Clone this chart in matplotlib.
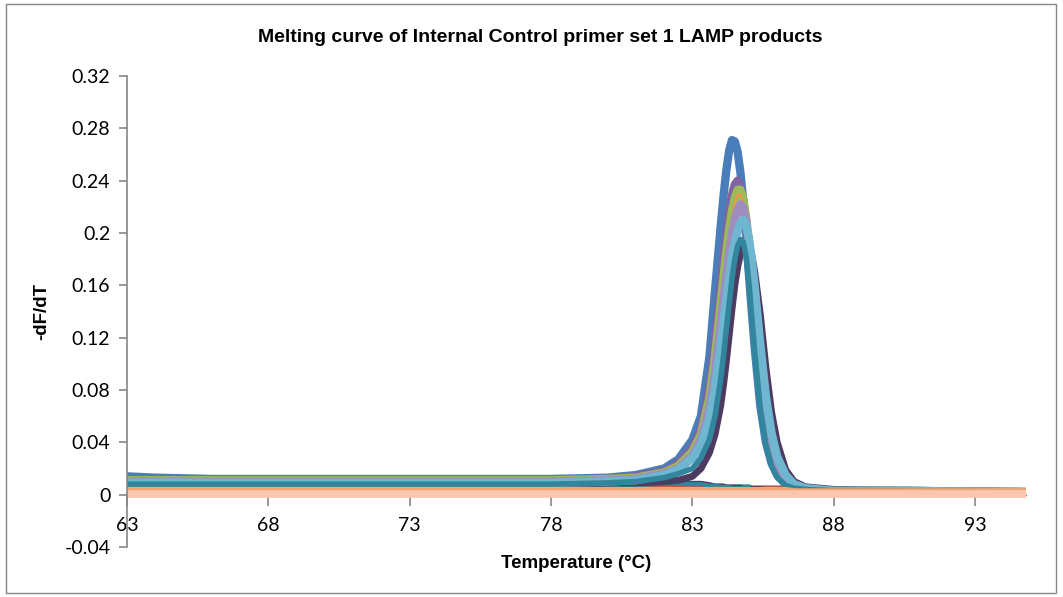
import matplotlib
matplotlib.use("Agg")
import matplotlib.pyplot as plt
from matplotlib.patches import Rectangle

# Temperature grid (°C)
temp = [63, 64, 66, 70, 75, 78, 80, 81, 82, 82.5, 83.0, 83.3, 83.6, 83.8, 84.0, 84.1,
        84.2, 84.3, 84.4, 84.5, 84.6, 84.7, 84.8, 84.9, 85.0, 85.1, 85.2, 85.4, 85.6,
        85.8, 86.0, 86.3, 86.6, 87.0, 88.0, 90.0, 94.8]

# -dF/dT per sample
s_blue = [0.014, 0.013, 0.012, 0.012, 0.012, 0.012, 0.013, 0.015, 0.020, 0.027, 0.042, 0.060,
          0.105, 0.156, 0.205, 0.228, 0.248, 0.263, 0.271, 0.270, 0.262, 0.246, 0.224, 0.197,
          0.168, 0.140, 0.113, 0.068, 0.040, 0.024, 0.015, 0.008, 0.005, 0.004, 0.003, 0.003,
          0.002]
s_purple = [0.011, 0.011, 0.011, 0.011, 0.011, 0.011, 0.012, 0.014, 0.018, 0.024, 0.036, 0.050,
            0.082, 0.118, 0.160, 0.180, 0.199, 0.216, 0.229, 0.237, 0.240, 0.236, 0.225, 0.207,
            0.184, 0.158, 0.132, 0.085, 0.051, 0.030, 0.018, 0.009, 0.006, 0.004, 0.003, 0.003,
            0.002]
s_green = [0.011, 0.011, 0.011, 0.011, 0.011, 0.011, 0.012, 0.013, 0.017, 0.022, 0.033, 0.046,
           0.074, 0.106, 0.146, 0.166, 0.186, 0.203, 0.217, 0.227, 0.233, 0.233, 0.226, 0.212,
           0.192, 0.168, 0.142, 0.094, 0.057, 0.034, 0.020, 0.010, 0.006, 0.004, 0.003, 0.003,
           0.002]
s_orange = [0.010, 0.010, 0.010, 0.010, 0.010, 0.010, 0.011, 0.012, 0.016, 0.021, 0.031, 0.044,
            0.070, 0.100, 0.140, 0.160, 0.180, 0.198, 0.212, 0.223, 0.229, 0.230, 0.224, 0.211,
            0.193, 0.171, 0.146, 0.098, 0.060, 0.036, 0.021, 0.011, 0.006, 0.004, 0.003, 0.003,
            0.002]
s_lavender = [0.010, 0.010, 0.010, 0.010, 0.010, 0.010, 0.011, 0.012, 0.016, 0.020, 0.030, 0.042,
              0.066, 0.094, 0.130, 0.150, 0.168, 0.185, 0.200, 0.211, 0.218, 0.222, 0.219, 0.209,
              0.193, 0.173, 0.150, 0.104, 0.066, 0.040, 0.024, 0.012, 0.007, 0.004, 0.003, 0.003,
              0.002]
s_aqua = [0.009, 0.009, 0.009, 0.009, 0.009, 0.009, 0.010, 0.011, 0.015, 0.019, 0.028, 0.038,
          0.058, 0.082, 0.114, 0.132, 0.150, 0.166, 0.181, 0.193, 0.202, 0.208, 0.210, 0.206,
          0.196, 0.180, 0.160, 0.115, 0.075, 0.047, 0.029, 0.015, 0.008, 0.005, 0.003, 0.003,
          0.002]
s_teal = [0.008, 0.008, 0.008, 0.008, 0.008, 0.008, 0.009, 0.010, 0.013, 0.016, 0.020, 0.028,
          0.042, 0.060, 0.088, 0.106, 0.126, 0.146, 0.165, 0.180, 0.190, 0.195, 0.193, 0.182,
          0.162, 0.136, 0.110, 0.066, 0.038, 0.022, 0.013, 0.007, 0.005, 0.004, 0.003, 0.003,
          0.002]
s_darkpurple = [0.008, 0.008, 0.008, 0.008, 0.008, 0.008, 0.009, 0.009, 0.010, 0.011, 0.014, 0.020,
                0.032, 0.046, 0.068, 0.084, 0.102, 0.122, 0.142, 0.160, 0.174, 0.184, 0.190, 0.192,
                0.190, 0.183, 0.171, 0.138, 0.097, 0.063, 0.040, 0.019, 0.010, 0.006, 0.004, 0.003,
                0.002]
# Negative / no-product samples
n_blue = [0.007, 0.007, 0.007, 0.007, 0.006, 0.006, 0.006, 0.006, 0.006, 0.006, 0.006, 0.006,
          0.006, 0.005, 0.005, 0.005, 0.005, 0.005, 0.005, 0.005, 0.005, 0.005, 0.005, 0.005,
          0.005, 0.004, 0.004, 0.004, 0.004, 0.004, 0.004, 0.004, 0.004, 0.003, 0.003, 0.003,
          0.002]
n_darkpurple = [0.006, 0.006, 0.006, 0.006, 0.006, 0.006, 0.007, 0.008, 0.010, 0.010, 0.009, 0.009,
                0.008, 0.007, 0.007, 0.007, 0.006, 0.006, 0.006, 0.006, 0.006, 0.006, 0.005, 0.005,
                0.005, 0.005, 0.005, 0.005, 0.004, 0.004, 0.004, 0.004, 0.004, 0.004, 0.003, 0.003,
                0.003]
n_teal = [0.006, 0.006, 0.006, 0.006, 0.006, 0.006, 0.006, 0.007, 0.009, 0.009, 0.008, 0.008,
          0.007, 0.007, 0.006, 0.006, 0.006, 0.006, 0.005, 0.005, 0.005, 0.005, 0.005, 0.005,
          0.005, 0.004, 0.004, 0.004, 0.004, 0.004, 0.004, 0.003, 0.003, 0.003, 0.003, 0.003,
          0.002]
n_red = [0.004, 0.004, 0.005, 0.005, 0.005, 0.005, 0.005, 0.005, 0.005, 0.005, 0.005, 0.005,
         0.005, 0.005, 0.004, 0.004, 0.004, 0.004, 0.004, 0.004, 0.004, 0.004, 0.004, 0.004,
         0.004, 0.004, 0.004, 0.004, 0.004, 0.004, 0.004, 0.004, 0.003, 0.003, 0.003, 0.003,
         0.002]
n_salmon = [0.003, 0.003, 0.003, 0.003, 0.003, 0.003, 0.003, 0.003, 0.003, 0.003, 0.003, 0.003,
            0.003, 0.003, 0.003, 0.003, 0.003, 0.003, 0.003, 0.003, 0.003, 0.003, 0.003, 0.003,
            0.003, 0.003, 0.003, 0.003, 0.003, 0.003, 0.003, 0.003, 0.002, 0.002, 0.002, 0.002,
            0.002]
n_peach = [0.0003, 0.0003, 0.0003, 0.0003, 0.0003, 0.0003, 0.0003, 0.0003, 0.0003, 0.0003,
           0.0003, 0.0003, 0.0003, 0.0003, 0.0003, 0.0003, 0.0003, 0.0003, 0.0003, 0.0003,
           0.0003, 0.0003, 0.0003, 0.0003, 0.0003, 0.0003, 0.0003, 0.0003, 0.0003, 0.0003,
           0.0003, 0.0003, 0.0003, 0.0003, 0.0003, 0.0003, 0.0003]

series = [
    (s_blue, "#4A7EBB", 6.0),
    (n_blue, "#4F81BD", 5.5),
    (s_purple, "#8064A2", 6.0),
    (s_green, "#9BBB59", 6.0),
    (s_orange, "#F79646", 1.3),
    (s_lavender, "#A08CBF", 6.0),
    (n_red, "#C0504D", 5.5),
    (n_darkpurple, "#4D3B62", 3.0),
    (n_teal, "#31859C", 3.0),
    (s_darkpurple, "#4D3B62", 5.0),
    (s_aqua, "#6FB7D0", 6.0),
    (s_teal, "#31859C", 4.0),
    (n_salmon, "#F4A46E", 5.5),
    (n_peach, "#F9C6AE", 5.5),
]

yticks = [-0.04, 0, 0.04, 0.08, 0.12, 0.16, 0.2, 0.24, 0.28, 0.32]
ytick_labels = ["-0.04", "0", "0.04", "0.08", "0.12", "0.16", "0.2", "0.24", "0.28", "0.32"]
xticks = [63, 68, 73, 78, 83, 88, 93]
xtick_labels = ["63", "68", "73", "78", "83", "88", "93"]

fig = plt.figure(figsize=(10.63, 5.97), dpi=100)
ax = fig.add_axes([127 / 1063, 1 - 547 / 597, (1026 - 127) / 1063, (547 - 76) / 597])

for vals, col, lw in series:
    ax.plot(temp, vals, color=col, lw=lw, solid_capstyle="butt", solid_joinstyle="round")

ax.set_xlim(63, 94.8)
ax.set_ylim(-0.04, 0.32)

grey = "#868686"
for s in ["top", "right"]:
    ax.spines[s].set_visible(False)
ax.spines["left"].set_color(grey)
ax.spines["left"].set_linewidth(1.2)
ax.spines["bottom"].set_position(("data", 0))
ax.spines["bottom"].set_color(grey)
ax.spines["bottom"].set_linewidth(1.0)
ax.spines["bottom"].set_zorder(0)

tick_font = ["Lato", "DejaVu Sans"]
ax.set_yticks(yticks)
ax.set_yticklabels(ytick_labels, fontsize=14, family=tick_font)
ax.set_xticks(xticks)
ax.set_xticklabels(xtick_labels, fontsize=14, family=tick_font)
ax.tick_params(axis="y", direction="out", length=6, width=1.2, color=grey, pad=6)
ax.tick_params(axis="x", direction="out", length=8, width=1.2, color=grey, pad=8)

lab_font = ["Liberation Sans", "DejaVu Sans"]
fig.text(540 / 1063, 1 - 38 / 597, "Melting curve of Internal Control primer set 1 LAMP products",
         fontsize=14, fontweight="bold", family=lab_font, ha="center", va="center")
ax.set_ylabel("-dF/dT", fontsize=13.5, fontweight="bold", family=lab_font)
ax.yaxis.set_label_coords(-0.085, 0.5)
ax.set_xlabel("Temperature (°C)", fontsize=13.5, fontweight="bold", family=lab_font)
ax.xaxis.set_label_coords(0.5, -0.017)

fig.patches.append(Rectangle((6 / 1063, 4 / 597), 1050 / 1063, 589 / 597,
                             transform=fig.transFigure, fill=False,
                             edgecolor=grey, lw=1.0))

fig.savefig("out.png", dpi=100)
